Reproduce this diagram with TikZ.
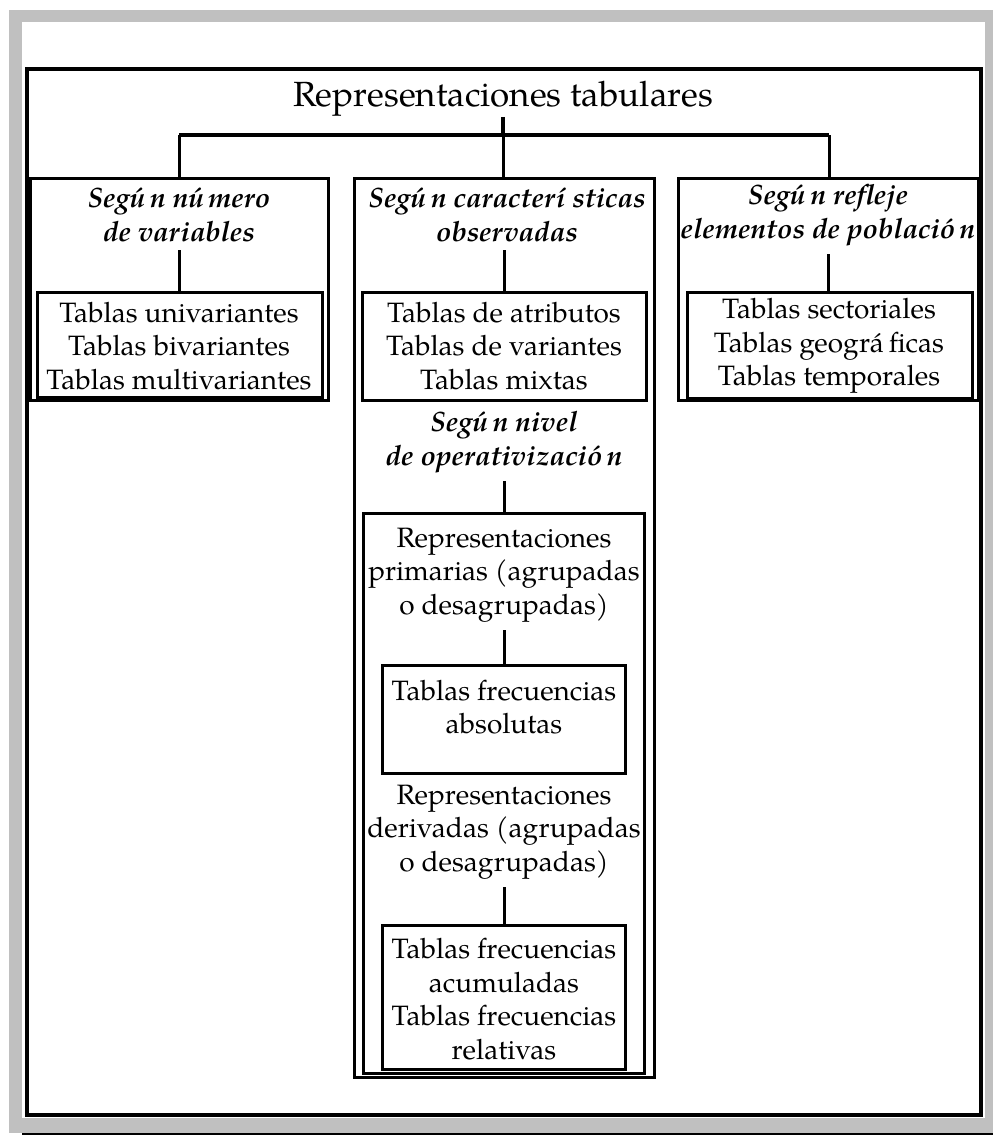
\documentclass[tikz,border=0pt]{standalone}
\usepackage{fontspec}
\setmainfont{TeX Gyre Pagella}
\usetikzlibrary{fit}
\definecolor{bggray}{HTML}{C0C0C0}
\begin{document}
\begin{tikzpicture}[x=1pt,y=-1pt,
  box/.style={draw, line width=3pt, rectangle, inner sep=0pt},
  txt/.style={align=center, inner sep=0pt, font=\fontsize{28}{33.5}\selectfont},
  lab/.style={align=center, inner sep=0pt, font=\fontsize{28}{34}\selectfont\bfseries\itshape},
  conn/.style={line width=3pt},
  barline/.style={line width=4pt}]
\useasboundingbox (0,0) rectangle (993,1135);
\fill[white] (0,0) rectangle (993,1135);
\fill[bggray] (9,10) rectangle (993,1133);
\fill[white] (22,22) rectangle (985,1118);
\fill[black] (22,1133) rectangle (993,1135);
\node[box, line width=3.5pt, fit={(27,69) (981,1115)}] (frame) {};

% title
\node[txt, font=\fontsize{35}{40}\selectfont] (title) at (503,99) {Representaciones tabulares};

% group boxes
\node[box, fit={(30,178) (328,400)}] (gL) {};
\node[box, fit={(354,178) (654,1077)}] (gM) {};
\node[box, fit={(678,178) (978,400)}] (gR) {};

% labels
\node[lab] (lL) at (179,215) {Segú\hspace{0.18em}n nú\hspace{0.15em}mero\\de variables};
\node[lab] (lM) at (507,215) {Segú\hspace{0.18em}n caracterí\hspace{0.25em}sticas\\observadas};
\node[lab] (lR) at (828,215) {Segú\hspace{0.18em}n refleje\\elementos de població\hspace{0.15em}n};

% inner boxes first level
\node[box, fit={(37,292) (322,397)}] (iL) {};
\node[box, fit={(362,292) (646,400)}] (iM) {};
\node[box, fit={(687,292) (972,398)}] (iR) {};
\node[txt] (tL) at (179,346) {Tablas univariantes\\Tablas bivariantes\\Tablas multivariantes};
\node[txt] (tM) at (504,346) {Tablas de atributos\\Tablas de variantes\\Tablas mixtas};
\node[txt] (tR) at (829,346) {Tablas sectoriales\\Tablas geográ\hspace{0.18em}ficas\\Tablas temporales};

% second criterion
\node[lab] (lN) at (504,442) {Segú\hspace{0.18em}n nivel\\de operativizació\hspace{0.15em}n};
\node[box, fit={(363,513) (644,1073)}] (pB) {};
\node[txt] (pT) at (504,575) {Representaciones\\primarias (agrupadas\\o desagrupadas)};
\node[box, fit={(382,665) (625,773)}] (aB) {};
\node[txt] (aT) at (504,707) {Tablas frecuencias\\absolutas};
\node[txt] (dT) at (504,832) {Representaciones\\derivadas (agrupadas\\o desagrupadas)};
\node[box, fit={(382,925) (625,1069)}] (rB) {};
\node[txt] (rT) at (504,999) {Tablas frecuencias\\acumuladas\\Tablas frecuencias\\relativas};

% connectors
\coordinate (barL) at (179,135);
\coordinate (barR) at (829,135);
\draw[barline] (title.south) -- (title.south |- barL);
\draw[barline] (barL) -- (barR);
\draw[conn] (barL) -- (gL.north -| barL);
\draw[conn] (title.south |- barL) -- (gM.north -| title.south);
\draw[conn] (barR) -- (gR.north -| barR);
\draw[conn] ([yshift=-8pt]lL.south) -- (iL.north -| lL.south);
\draw[conn] ([yshift=-8pt]lM.south -| tM.south) -- (iM.north -| tM.south);
\draw[conn] ([yshift=-8pt]lR.south) -- (iR.north -| lR.south);
\draw[conn] ([yshift=-8pt]lN.south) -- (pB.north -| lN.south);
\draw[conn] ([yshift=-8pt]pT.south) -- (aB.north -| pT.south);
\draw[conn] ([yshift=-8pt]dT.south) -- (rB.north -| dT.south);
\end{tikzpicture}
\end{document}
